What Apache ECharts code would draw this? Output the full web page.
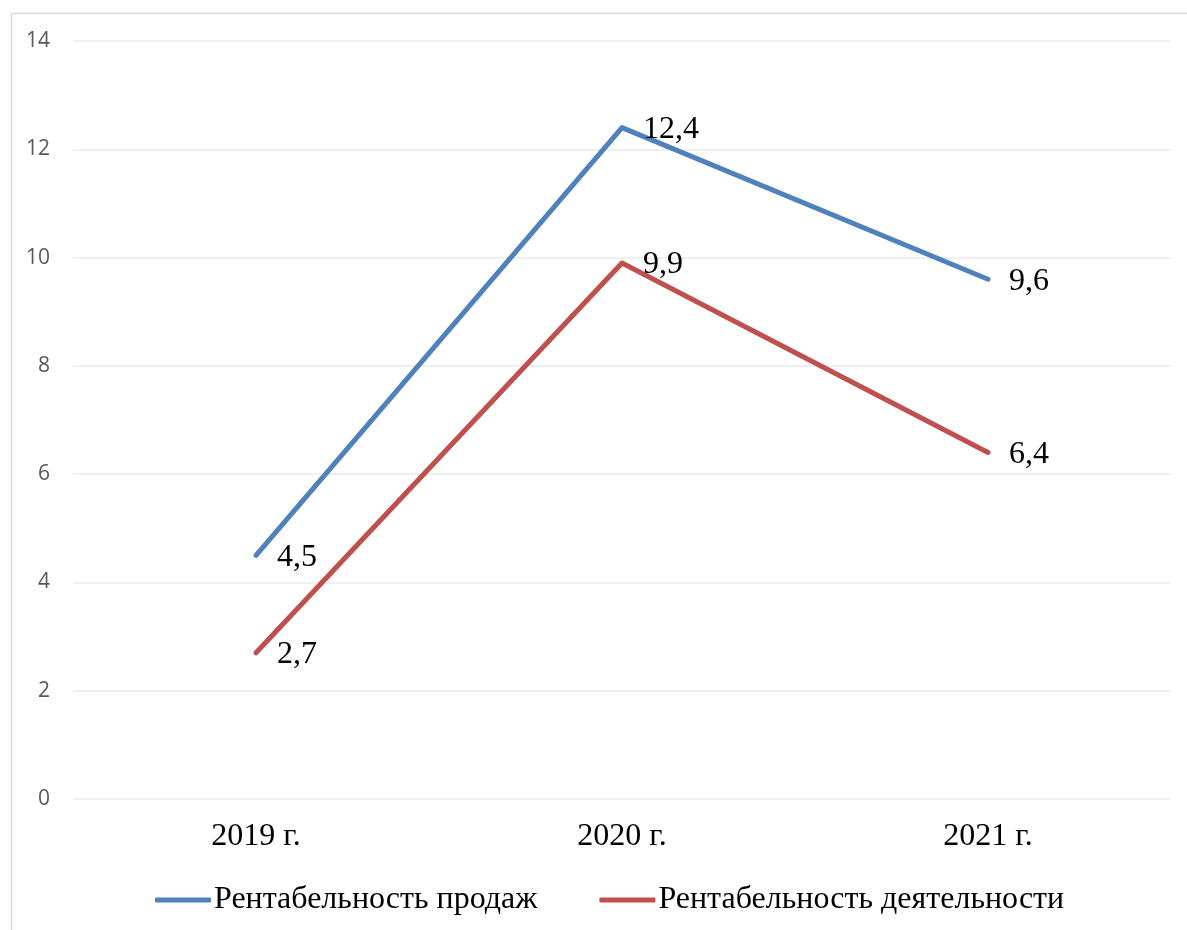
<!DOCTYPE html>
<html>
<head>
<meta charset="utf-8">
<script src="https://cdn.jsdelivr.net/npm/echarts@6/dist/echarts.min.js"></script>
<style>
  html, body { margin: 0; padding: 0; background: #fff; }
  #chart { width: 1187px; height: 930px; }
</style>
</head>
<body>
<div id="chart"></div>
<script>
// Years on the category axis
const years = ['2019 г.', '2020 г.', '2021 г.'];
// Profitability indicators, %
const salesProfitability = [4.5, 12.4, 9.6];
const operatingProfitability = [2.7, 9.9, 6.4];
const seriesNames = ['Рентабельность продаж', 'Рентабельность деятельности'];

const serif = '"Liberation Serif", "Times New Roman", serif';
const fmt = p => String(p.value).replace('.', ',');

const chart = echarts.init(document.getElementById('chart'), null, { renderer: 'canvas' });

function lineSeries(name, data, color) {
  return {
    name: name,
    type: 'line',
    data: data,
    symbol: 'circle',
    symbolSize: 0,
    showSymbol: true,
    lineStyle: { color: color, width: 5, cap: 'round', join: 'round' },
    itemStyle: { color: color },
    label: {
      show: true,
      position: 'right',
      distance: 21,
      offset: [0, 2],
      formatter: fmt,
      fontFamily: serif,
      fontSize: 32,
      color: '#000'
    },
    emphasis: { disabled: true },
    animation: false
  };
}

chart.setOption({
  backgroundColor: '#fff',
  animation: false,
  graphic: [{
    type: 'rect',
    left: 9,
    top: 11,
    shape: { width: 1300, height: 1000 },
    style: { fill: 'none', stroke: '#d9d9d9', lineWidth: 1.5 },
    silent: true
  }],
  grid: { left: 73, right: 16, top: 41, bottom: 131, containLabel: false },
  legend: {
    top: 879,
    left: 150,
    itemWidth: 56,
    itemHeight: 5,
    itemGap: 62,
    icon: 'roundRect',
    textStyle: { fontFamily: serif, fontSize: 32, color: '#000', padding: [0, 0, 0, -2] },
    data: seriesNames
  },
  xAxis: {
    type: 'category',
    data: years,
    boundaryGap: true,
    axisLine: { show: false },
    axisTick: { show: false },
    axisLabel: { fontFamily: serif, fontSize: 32, color: '#000', margin: 22 }
  },
  yAxis: {
    type: 'value',
    min: 0,
    max: 14,
    interval: 2,
    axisLine: { show: false },
    axisTick: { show: false },
    axisLabel: { fontFamily: '"Open Sans", "Liberation Sans", sans-serif', fontSize: 21, color: '#595959', margin: 23 },
    splitLine: { lineStyle: { color: '#ebebeb', width: 1.5 } }
  },
  series: [
    lineSeries(seriesNames[0], salesProfitability, '#4F81BD'),
    lineSeries(seriesNames[1], operatingProfitability, '#C0504D')
  ]
});
</script>
</body>
</html>
